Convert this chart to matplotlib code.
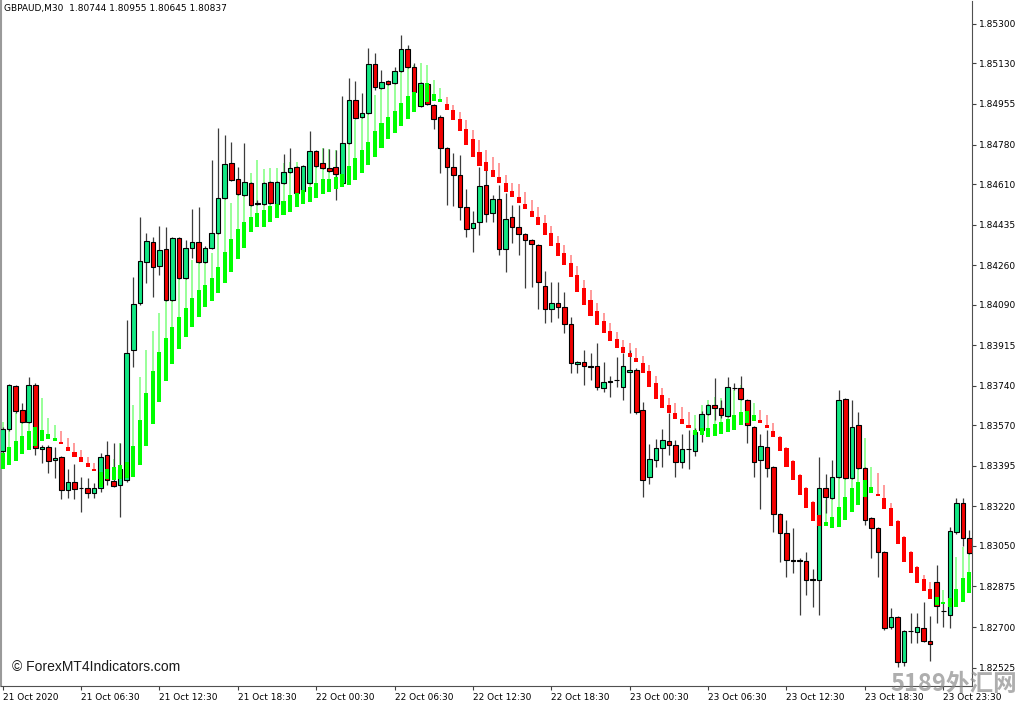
import matplotlib
matplotlib.use('Agg')
import matplotlib.pyplot as plt
import numpy as np

# GBPAUD M30 candles
c_open = [1.83459, 1.83554, 1.83739, 1.83636, 1.83584, 1.83744, 1.83468, 1.83476, 1.83420, 1.83433,
          1.83291, 1.83326, 1.83300, 1.83300, 1.83278, 1.83300, 1.83442, 1.83330, 1.83313, 1.83334,
          1.83894, 1.84097, 1.84274, 1.84360, 1.84256, 1.84330, 1.84110, 1.84377, 1.84205, 1.84334,
          1.84360, 1.84274, 1.84334, 1.84399, 1.84550, 1.84700, 1.84631, 1.84562, 1.84614, 1.84528,
          1.84524, 1.84619, 1.84524, 1.84614, 1.84662, 1.84683, 1.84580, 1.84614, 1.84752, 1.84700,
          1.84679, 1.84683, 1.84614, 1.84787, 1.84972, 1.84899, 1.84916, 1.85127, 1.85024, 1.85054,
          1.85045, 1.85097, 1.85192, 1.85114, 1.84946, 1.85041, 1.84950, 1.84899, 1.84765, 1.84683,
          1.84649, 1.84511, 1.84420, 1.84446, 1.84606, 1.84485, 1.84545, 1.84330, 1.84468, 1.84425,
          1.84395, 1.84369, 1.84347, 1.84170, 1.84071, 1.84097, 1.84080, 1.84007, 1.83834, 1.83843,
          1.83825, 1.83825, 1.83731, 1.83757, 1.83765, 1.83735, 1.83800, 1.83808, 1.83636, 1.83347,
          1.83420, 1.83472, 1.83502, 1.83485, 1.83412, 1.83468, 1.83459, 1.83550, 1.83619, 1.83657,
          1.83644, 1.83610, 1.83731, 1.83731, 1.83679, 1.83563, 1.83420, 1.83476, 1.83390, 1.83188,
          1.83106, 1.82989, 1.82989, 1.82985, 1.82903, 1.82903, 1.83300, 1.83257, 1.83347, 1.83683,
          1.83343, 1.83571, 1.83386, 1.83170, 1.83127, 1.83024, 1.82701, 1.82744, 1.82550, 1.82683,
          1.82679, 1.82696, 1.82640, 1.82895, 1.82770, 1.82752, 1.83110, 1.83235, 1.83084]
c_high = [1.83563, 1.83748, 1.83744, 1.83666, 1.83778, 1.83752, 1.83485, 1.83485, 1.83476, 1.83438,
          1.83382, 1.83403, 1.83347, 1.83343, 1.83321, 1.83451, 1.83502, 1.83494, 1.83494, 1.84024,
          1.84209, 1.84468, 1.84399, 1.84382, 1.84429, 1.84425, 1.84382, 1.84382, 1.84369, 1.84502,
          1.84511, 1.84343, 1.84713, 1.84851, 1.84821, 1.84791, 1.84683, 1.84787, 1.84619, 1.84541,
          1.84619, 1.84623, 1.84623, 1.84739, 1.84765, 1.84687, 1.84692, 1.84838, 1.84757, 1.84765,
          1.84761, 1.84757, 1.84989, 1.85067, 1.85054, 1.85002, 1.85196, 1.85175, 1.85101, 1.85058,
          1.85114, 1.85252, 1.85209, 1.85131, 1.85050, 1.85045, 1.84955, 1.84907, 1.84769, 1.84744,
          1.84735, 1.84588, 1.84494, 1.84683, 1.84687, 1.84562, 1.84606, 1.84571, 1.84519, 1.84519,
          1.84399, 1.84373, 1.84351, 1.84235, 1.84188, 1.84188, 1.84144, 1.84037, 1.83847, 1.83894,
          1.83882, 1.83925, 1.83843, 1.83782, 1.83864, 1.83882, 1.83894, 1.83817, 1.83670, 1.83489,
          1.83511, 1.83554, 1.83623, 1.83507, 1.83532, 1.83550, 1.83558, 1.83632, 1.83662, 1.83774,
          1.83679, 1.83778, 1.83752, 1.83782, 1.83683, 1.83567, 1.83532, 1.83550, 1.83394, 1.83192,
          1.83162, 1.83127, 1.82998, 1.83024, 1.82951, 1.83433, 1.83360, 1.83420, 1.83722, 1.83688,
          1.83679, 1.83627, 1.83390, 1.83175, 1.83132, 1.83028, 1.82782, 1.82748, 1.82688, 1.82761,
          1.82761, 1.82808, 1.82748, 1.82968, 1.82808, 1.83132, 1.83257, 1.83257, 1.83119]
c_low = [1.83442, 1.83545, 1.83623, 1.83580, 1.83580, 1.83442, 1.83407, 1.83364, 1.83343, 1.83252,
         1.83257, 1.83252, 1.83196, 1.83257, 1.83257, 1.83282, 1.83313, 1.83304, 1.83175, 1.83326,
         1.83821, 1.84088, 1.84183, 1.84123, 1.84218, 1.84106, 1.84106, 1.84200, 1.84200, 1.84291,
         1.84269, 1.84269, 1.84330, 1.84395, 1.84545, 1.84623, 1.84562, 1.84558, 1.84515, 1.84519,
         1.84519, 1.84524, 1.84519, 1.84610, 1.84657, 1.84567, 1.84575, 1.84610, 1.84683, 1.84675,
         1.84662, 1.84541, 1.84610, 1.84782, 1.84890, 1.84894, 1.84912, 1.85015, 1.85019, 1.85037,
         1.85041, 1.85093, 1.85110, 1.85002, 1.84942, 1.84950, 1.84847, 1.84657, 1.84519, 1.84515,
         1.84455, 1.84382, 1.84317, 1.84390, 1.84446, 1.84446, 1.84304, 1.84231, 1.84356, 1.84304,
         1.84162, 1.84166, 1.84071, 1.84011, 1.84015, 1.84032, 1.83968, 1.83795, 1.83795, 1.83744,
         1.83765, 1.83722, 1.83713, 1.83692, 1.83735, 1.83679, 1.83623, 1.83619, 1.83261, 1.83317,
         1.83390, 1.83390, 1.83442, 1.83347, 1.83386, 1.83382, 1.83438, 1.83498, 1.83614, 1.83593,
         1.83601, 1.83606, 1.83722, 1.83679, 1.83494, 1.83347, 1.83209, 1.83347, 1.83110, 1.82981,
         1.82916, 1.82933, 1.82752, 1.82839, 1.82787, 1.82752, 1.83192, 1.83252, 1.83343, 1.83338,
         1.83338, 1.83382, 1.83140, 1.82998, 1.82916, 1.82688, 1.82692, 1.82528, 1.82532, 1.82632,
         1.82632, 1.82636, 1.82554, 1.82718, 1.82701, 1.82696, 1.83101, 1.83050, 1.83015]
c_close = [1.83554, 1.83744, 1.83632, 1.83584, 1.83744, 1.83472, 1.83476, 1.83416, 1.83429, 1.83291,
           1.83326, 1.83295, 1.83298, 1.83278, 1.83300, 1.83433, 1.83334, 1.83308, 1.83382, 1.83882,
           1.84093, 1.84278, 1.84364, 1.84252, 1.84325, 1.84110, 1.84377, 1.84205, 1.84334, 1.84360,
           1.84274, 1.84334, 1.84399, 1.84550, 1.84696, 1.84627, 1.84567, 1.84619, 1.84519, 1.84526,
           1.84614, 1.84528, 1.84619, 1.84662, 1.84679, 1.84571, 1.84687, 1.84752, 1.84687, 1.84679,
           1.84666, 1.84653, 1.84787, 1.84972, 1.84894, 1.84916, 1.85127, 1.85028, 1.85050, 1.85041,
           1.85097, 1.85192, 1.85114, 1.85007, 1.85045, 1.84955, 1.84890, 1.84765, 1.84683, 1.84649,
           1.84511, 1.84416, 1.84442, 1.84601, 1.84481, 1.84545, 1.84330, 1.84459, 1.84425, 1.84395,
           1.84369, 1.84351, 1.84188, 1.84071, 1.84097, 1.84080, 1.84007, 1.83838, 1.83843, 1.83825,
           1.83823, 1.83735, 1.83757, 1.83761, 1.83763, 1.83825, 1.83808, 1.83627, 1.83334, 1.83425,
           1.83472, 1.83507, 1.83485, 1.83412, 1.83468, 1.83466, 1.83541, 1.83619, 1.83657, 1.83644,
           1.83614, 1.83735, 1.83729, 1.83683, 1.83571, 1.83412, 1.83481, 1.83386, 1.83188, 1.83106,
           1.82989, 1.82987, 1.82987, 1.82903, 1.82907, 1.83300, 1.83261, 1.83347, 1.83679, 1.83343,
           1.83563, 1.83386, 1.83162, 1.83127, 1.83024, 1.82696, 1.82744, 1.82550, 1.82683, 1.82681,
           1.82701, 1.82640, 1.82627, 1.82791, 1.82768, 1.83114, 1.83235, 1.83084, 1.83020]

# smoothed heiken ashi overlay
ha_open = [1.83382, 1.83399, 1.83416, 1.83446, 1.83463, 1.83481, 1.83502, 1.83511, 1.83502, 1.83498,
           1.83476, 1.83455, 1.83433, 1.83407, 1.83382, 1.83304, 1.83338, 1.83334, 1.83338, 1.83343,
           1.83347, 1.83399, 1.83481, 1.83576, 1.83670, 1.83761, 1.83834, 1.83899, 1.83950, 1.83994,
           1.84037, 1.84080, 1.84106, 1.84140, 1.84183, 1.84231, 1.84287, 1.84334, 1.84403, 1.84425,
           1.84425, 1.84446, 1.84463, 1.84476, 1.84489, 1.84511, 1.84524, 1.84532, 1.84550, 1.84567,
           1.84575, 1.84588, 1.84597, 1.84606, 1.84627, 1.84657, 1.84692, 1.84726, 1.84765, 1.84804,
           1.84830, 1.84860, 1.84890, 1.84920, 1.84946, 1.84963, 1.84968, 1.84963, 1.84955, 1.84929,
           1.84890, 1.84847, 1.84804, 1.84748, 1.84705, 1.84670, 1.84640, 1.84614, 1.84580, 1.84554,
           1.84524, 1.84494, 1.84468, 1.84442, 1.84399, 1.84356, 1.84313, 1.84269, 1.84218, 1.84162,
           1.84110, 1.84063, 1.84019, 1.83976, 1.83942, 1.83907, 1.83882, 1.83860, 1.83838, 1.83804,
           1.83752, 1.83700, 1.83657, 1.83623, 1.83597, 1.83571, 1.83528, 1.83528, 1.83520, 1.83524,
           1.83532, 1.83541, 1.83550, 1.83571, 1.83580, 1.83588, 1.83593, 1.83571, 1.83545, 1.83520,
           1.83472, 1.83416, 1.83356, 1.83300, 1.83239, 1.83183, 1.83136, 1.83127, 1.83132, 1.83162,
           1.83196, 1.83226, 1.83261, 1.83278, 1.83274, 1.83257, 1.83213, 1.83157, 1.83089, 1.83024,
           1.82959, 1.82907, 1.82864, 1.82795, 1.82800, 1.82787, 1.82787, 1.82808, 1.82847]
ha_close = [1.83451, 1.83476, 1.83502, 1.83524, 1.83545, 1.83563, 1.83550, 1.83532, 1.83515, 1.83489,
            1.83459, 1.83433, 1.83412, 1.83390, 1.83373, 1.83369, 1.83382, 1.83390, 1.83399, 1.83412,
            1.83481, 1.83593, 1.83709, 1.83804, 1.83886, 1.83946, 1.83994, 1.84037, 1.84075, 1.84119,
            1.84153, 1.84175, 1.84205, 1.84252, 1.84317, 1.84373, 1.84416, 1.84446, 1.84468, 1.84485,
            1.84498, 1.84515, 1.84524, 1.84537, 1.84562, 1.84571, 1.84584, 1.84597, 1.84614, 1.84631,
            1.84631, 1.84640, 1.84653, 1.84687, 1.84722, 1.84757, 1.84791, 1.84838, 1.84873, 1.84899,
            1.84925, 1.84959, 1.84989, 1.85007, 1.85037, 1.85045, 1.84998, 1.84976, 1.84929, 1.84886,
            1.84838, 1.84778, 1.84726, 1.84687, 1.84666, 1.84640, 1.84614, 1.84575, 1.84554, 1.84528,
            1.84502, 1.84468, 1.84433, 1.84390, 1.84343, 1.84300, 1.84261, 1.84209, 1.84144, 1.84088,
            1.84041, 1.84002, 1.83968, 1.83933, 1.83903, 1.83882, 1.83864, 1.83843, 1.83795, 1.83735,
            1.83683, 1.83644, 1.83623, 1.83597, 1.83576, 1.83558, 1.83550, 1.83558, 1.83558, 1.83576,
            1.83584, 1.83597, 1.83614, 1.83627, 1.83632, 1.83614, 1.83580, 1.83558, 1.83520, 1.83459,
            1.83390, 1.83334, 1.83269, 1.83213, 1.83157, 1.83136, 1.83153, 1.83175, 1.83218, 1.83261,
            1.83300, 1.83326, 1.83334, 1.83304, 1.83265, 1.83209, 1.83136, 1.83058, 1.82981, 1.82933,
            1.82890, 1.82856, 1.82821, 1.82830, 1.82808, 1.82826, 1.82864, 1.82912, 1.82938]
ha_high = [1.83584, 1.83563, 1.83623, 1.83584, 1.83614, 1.83688, 1.83688, 1.83601, 1.83571, 1.83545,
           1.83515, 1.83494, 1.83463, 1.83433, 1.83407, 1.83386, 1.83425, 1.83425, 1.83494, 1.83507,
           1.83657, 1.83778, 1.83894, 1.83976, 1.84054, 1.84110, 1.84123, 1.84205, 1.84248, 1.84282,
           1.84282, 1.84269, 1.84313, 1.84399, 1.84550, 1.84528, 1.84627, 1.84619, 1.84657, 1.84713,
           1.84675, 1.84679, 1.84679, 1.84700, 1.84705, 1.84705, 1.84683, 1.84705, 1.84705, 1.84765,
           1.84761, 1.84757, 1.84787, 1.84843, 1.84886, 1.84894, 1.84916, 1.84993, 1.85028, 1.85037,
           1.85045, 1.85101, 1.85123, 1.85123, 1.85131, 1.85123, 1.85058, 1.85024, 1.84985, 1.84950,
           1.84920, 1.84886, 1.84843, 1.84800, 1.84757, 1.84726, 1.84700, 1.84649, 1.84614, 1.84610,
           1.84575, 1.84541, 1.84511, 1.84476, 1.84429, 1.84386, 1.84347, 1.84304, 1.84256, 1.84196,
           1.84153, 1.84097, 1.84054, 1.84011, 1.83972, 1.83938, 1.83925, 1.83903, 1.83869, 1.83830,
           1.83782, 1.83731, 1.83688, 1.83666, 1.83649, 1.83627, 1.83614, 1.83657, 1.83679, 1.83692,
           1.83688, 1.83692, 1.83722, 1.83744, 1.83670, 1.83666, 1.83636, 1.83614, 1.83580, 1.83524,
           1.83476, 1.83420, 1.83360, 1.83304, 1.83244, 1.83248, 1.83248, 1.83261, 1.83347, 1.83442,
           1.83515, 1.83520, 1.83515, 1.83390, 1.83364, 1.83313, 1.83235, 1.83162, 1.83093, 1.83028,
           1.82963, 1.82925, 1.82895, 1.82830, 1.82860, 1.82826, 1.83002, 1.83045, 1.83063]

time_labels = ['21 Oct 2020', '21 Oct 06:30', '21 Oct 12:30', '21 Oct 18:30', '22 Oct 00:30',
               '22 Oct 06:30', '22 Oct 12:30', '22 Oct 18:30', '23 Oct 00:30', '23 Oct 06:30',
               '23 Oct 12:30', '23 Oct 18:30', '23 Oct 23:30']
price_ticks = [1.85300, 1.85130, 1.84955, 1.84780, 1.84610, 1.84435, 1.84260, 1.84090, 1.83915,
               1.83740, 1.83570, 1.83395, 1.83220, 1.83050, 1.82875, 1.82700, 1.82525]

c_open, c_high, c_low, c_close = map(np.array, (c_open, c_high, c_low, c_close))
ha_open, ha_close, ha_high = map(np.array, (ha_open, ha_close, ha_high))
x = np.arange(len(c_open))

fig = plt.figure(figsize=(10.24, 7.04), dpi=100)
ax = fig.add_axes([1 / 1024, 18 / 704, 971 / 1024, 685 / 704])

# candles
up = c_close >= c_open
ax.vlines(x, c_low, c_high, color='#3c3c3c', lw=0.9, zorder=2)
ax.bar(x, c_close - c_open, bottom=c_open, width=0.7,
       color=np.where(up, '#12E884', '#F20000'), edgecolor='black', linewidth=0.8, zorder=3)

# heiken ashi smoothed
ha_up = ha_close >= ha_open
ha_top = np.maximum(ha_open, ha_close)
ax.vlines(x, ha_top, ha_high, color=np.where(ha_up, '#7CFF7C', '#FF8080'), lw=1.1, zorder=1.5)
ax.bar(x, ha_close - ha_open, bottom=ha_open, width=0.62,
       color=np.where(ha_up, '#00FF00', '#FF0000'), linewidth=0, zorder=4)

ax.set_xlim(-0.25, 148.4)
ax.set_ylim(1.82446, 1.85399)

ax.yaxis.tick_right()
ax.set_yticks(price_ticks)
ax.set_yticklabels(['%.5f' % p for p in price_ticks])
ax.set_xticks(np.arange(0, 12 * len(time_labels), 12))
ax.set_xticklabels(time_labels, ha='left')
ax.tick_params(axis='both', labelsize=6.5, length=3, width=0.8, color='#404040', pad=2)

ax.spines['top'].set_visible(False)
ax.spines['left'].set_color('#9a9a9a')
ax.spines['left'].set_linewidth(1.5)
ax.spines['right'].set_color('#505050')
ax.spines['bottom'].set_color('#505050')

fig.text(4 / 1024, 1 - 9 / 704, 'GBPAUD,M30  1.80744 1.80955 1.80645 1.80837',
         fontsize=6.5, va='center', ha='left')
fig.text(12 / 1024, 1 - 667 / 704, '\u00a9 ForexMT4Indicators.com', fontsize=10,
         family='Liberation Sans', va='center', ha='left', color='#1a1a1a')
# site watermark, bottom right
fig.text(890 / 1024, 1 - 684 / 704, '5189外汇网', fontsize=17, weight='bold',
         family=['Noto Sans CJK SC', 'DejaVu Sans'], color='#8c8c8c', alpha=0.7,
         va='center', ha='left')

fig.savefig('out.png', dpi=100, facecolor='white')
